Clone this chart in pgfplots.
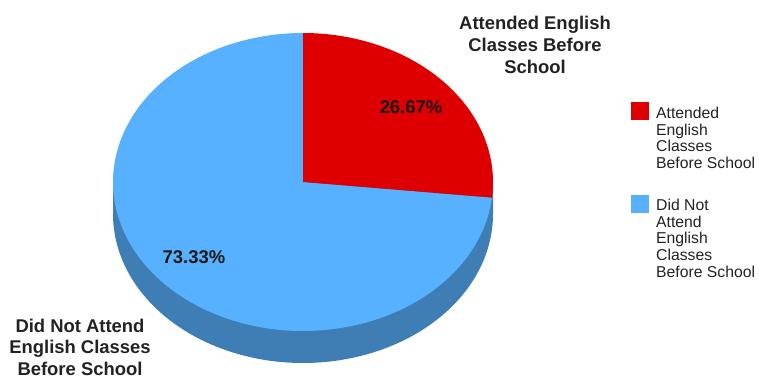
\documentclass[border=0pt]{standalone}
\usepackage{pgfplots}
\pgfplotsset{compat=1.18}
\usepackage{fontspec}
\setmainfont{Liberation Sans}
\definecolor{pred}{RGB}{222,0,0}
\definecolor{pblue}{RGB}{87,177,255}
\definecolor{pside}{RGB}{62,126,180}
\definecolor{txt}{RGB}{34,34,34}
\begin{document}
\begin{tikzpicture}
\def\pA{26.67}
\def\pB{73.33}
\pgfmathsetmacro\angA{3.6*\pA}
\begin{axis}[
 width=759bp, height=379bp, scale only axis,
 xmin=0, xmax=759, ymin=0, ymax=379, y dir=reverse,
 hide axis, clip=false,
]
\coordinate (SW) at (rel axis cs:0,0);
\coordinate (NE) at (rel axis cs:1,1);
% side of the pie
\addplot[fill=pside, draw=none, domain=90:270, samples=120]
  ({303+190*sin(x)}, {214-149*cos(x)}) -- (axis cs:113,182) -- (axis cs:493,182) -- cycle;
% top faces
\addplot[fill=pblue, draw=none, domain=\angA:360, samples=200]
  ({303+190*sin(x)}, {182-149*cos(x)}) -- (axis cs:303,182) -- cycle;
\addplot[fill=pred, draw=none, domain=0:\angA, samples=100]
  ({303+190*sin(x)}, {182-149*cos(x)}) -- (axis cs:303,182) -- cycle;
% legend
\node[fill=pred, minimum width=18bp, minimum height=18bp, inner sep=0pt, anchor=north west] at (axis cs:631,102) {};
\node[fill=pblue, minimum width=18bp, minimum height=18bp, inner sep=0pt, anchor=north west] at (axis cs:631,195) {};
\node[font=\fontsize{15.8}{16.7}\selectfont, text=txt, inner sep=0pt, anchor=base west] at (axis cs:656,118.5)
  {\begin{tabular}[t]{@{}l@{}}Attended\\English\\Classes\\Before School\end{tabular}};
\node[font=\fontsize{15.8}{16.7}\selectfont, text=txt, inner sep=0pt, anchor=base west] at (axis cs:656,210.5)
  {\begin{tabular}[t]{@{}l@{}}Did Not\\Attend\\English\\Classes\\Before School\end{tabular}};
% labels
\node[font=\fontsize{18.5}{22}\selectfont\bfseries, text=txt, align=center] at (axis cs:535,45)
  {Attended English\\Classes Before\\School};
\node[font=\fontsize{18.5}{21.5}\selectfont\bfseries, text=txt, align=center, inner sep=0pt] at (axis cs:80,347)
  {Did Not Attend\\English Classes\\Before School};
\node[font=\fontsize{18.5}{22}\selectfont\bfseries, text=black!90] at (axis cs:411,107) {26.67\%};
\node[font=\fontsize{18.5}{22}\selectfont\bfseries, text=black!90] at (axis cs:194,257) {73.33\%};
\end{axis}
\pgfresetboundingbox
\useasboundingbox (SW) rectangle (NE);
\end{tikzpicture}
\end{document}
